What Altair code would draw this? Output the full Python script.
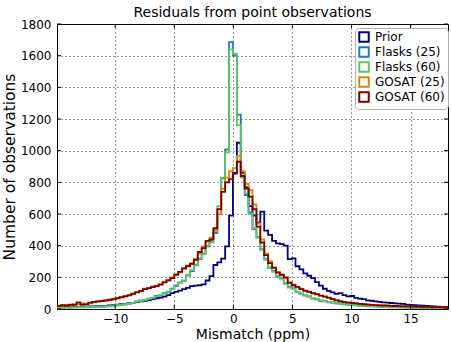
import altair as alt
import pandas as pd

# Histogram bins: 100 bins starting at BIN_START with width BIN_WIDTH (ppm)
BIN_START = -14.93
BIN_WIDTH = 0.331
N_BINS = 100

SERIES = ["Prior", "Flasks (25)", "Flasks (60)", "GOSAT (25)", "GOSAT (60)"]
COLORS = ["#00007f", "#1f78d0", "#5cc85c", "#d8870f", "#7f0000"]

prior = [12, 14, 12, 15, 13, 14, 15, 14, 16, 17,
         18, 18, 20, 22, 24, 27, 30, 33, 36, 38,
         44, 48, 52, 56, 62, 68, 72, 78, 88, 100,
         108, 116, 125, 133, 145, 148, 150, 155, 180, 208,
         278, 295, 318, 395, 590, 855, 1050, 860, 770, 650,
         590, 545, 615, 495, 468, 430, 415, 410, 400, 315,
         320, 270, 250, 225, 210, 195, 170, 148, 128, 115,
         105, 95, 100, 88, 80, 82, 70, 66, 62, 55,
         52, 48, 45, 42, 40, 38, 36, 34, 32, 28,
         26, 24, 22, 21, 20, 18, 17, 15, 14, 13]

flasks25 = [9, 8, 10, 9, 11, 10, 12, 11, 13, 12,
            15, 14, 17, 17, 21, 23, 28, 29, 35, 37,
            46, 54, 56, 66, 70, 82, 86, 100, 108, 128,
            145, 168, 178, 214, 240, 280, 315, 350, 395, 430,
            480, 600, 825, 1008, 1686, 1600, 1228, 840, 720, 610,
            505, 455, 375, 315, 260, 240, 205, 195, 160, 140,
            132, 108, 98, 85, 80, 66, 62, 52, 50, 42,
            41, 35, 34, 29, 28, 25, 23, 21, 20, 17,
            18, 15, 15, 13, 14, 11, 12, 10, 11, 9,
            9, 8, 9, 7, 8, 6, 7, 6, 5, 6]

flasks60 = [8, 9, 9, 10, 10, 11, 10, 12, 12, 13,
            14, 15, 16, 18, 20, 24, 27, 30, 34, 38,
            48, 52, 58, 64, 72, 80, 88, 98, 110, 125,
            150, 165, 180, 210, 245, 275, 320, 345, 400, 420,
            490, 650, 830, 990, 1640, 1612, 1161, 830, 730, 600,
            510, 450, 380, 310, 265, 235, 210, 190, 165, 135,
            128, 110, 95, 88, 78, 68, 60, 54, 48, 44,
            40, 36, 33, 30, 28, 26, 24, 22, 20, 19,
            17, 16, 15, 14, 13, 12, 11, 11, 10, 10,
            9, 9, 8, 8, 7, 7, 7, 6, 6, 6]

gosat25 = [18, 22, 25, 24, 30, 30, 35, 28, 36, 42,
           46, 52, 52, 60, 60, 70, 72, 82, 88, 98,
           108, 112, 128, 130, 142, 148, 152, 172, 178, 200,
           220, 232, 260, 275, 290, 318, 350, 395, 425, 450,
           500, 600, 760, 830, 870, 890, 965, 870, 790, 750,
           660, 540, 440, 350, 300, 265, 235, 220, 195, 170,
           155, 138, 128, 118, 110, 98, 95, 84, 80, 70,
           64, 56, 50, 45, 42, 37, 36, 33, 31, 29,
           27, 25, 24, 22, 22, 20, 19, 18, 17, 17,
           16, 15, 15, 14, 13, 13, 12, 12, 11, 11]

gosat60 = [20, 24, 22, 28, 26, 42, 28, 30, 40, 45,
           48, 50, 55, 58, 62, 68, 75, 80, 86, 95,
           105, 115, 125, 132, 138, 145, 155, 168, 182, 195,
           215, 235, 255, 270, 285, 310, 360, 385, 430, 440,
           510, 630, 740, 800, 820, 860, 930, 840, 760, 710,
           630, 520, 420, 340, 290, 260, 230, 215, 200, 165,
           150, 140, 125, 115, 108, 100, 92, 85, 78, 72,
           62, 54, 48, 44, 40, 38, 35, 32, 30, 28,
           26, 24, 23, 22, 21, 20, 19, 18, 17, 16,
           16, 15, 14, 14, 13, 13, 12, 12, 11, 11]

X_TICKS = [-10, -5, 0, 5, 10, 15]
Y_TICKS = [0, 200, 400, 600, 800, 1000, 1200, 1400, 1600, 1800]

X_MIN = BIN_START
X_MAX = BIN_START + N_BINS * BIN_WIDTH

rows = []
for name, counts in zip(SERIES, [prior, flasks25, flasks60, gosat25, gosat60]):
    for i, c in enumerate(counts):
        rows.append({"series": name, "x": BIN_START + i * BIN_WIDTH, "count": c, "o": i})
    rows.append({"series": name, "x": X_MAX, "count": counts[-1], "o": len(counts)})
df = pd.DataFrame(rows)

W, H = 391, 285
TL = 4

xscale = alt.Scale(domain=[X_MIN, X_MAX], nice=False, zero=False)
yscale = alt.Scale(domain=[0, 1800], nice=False)
xaxis = alt.Axis(values=X_TICKS, title="Mismatch (ppm)", format="d", labelOverlap=False,
                 tickCount=len(X_TICKS))
yaxis = alt.Axis(values=Y_TICKS, title="Number of observations", format="d",
                 labelOverlap=False, tickCount=len(Y_TICKS), titleFontSize=15.5)

lines = alt.Chart(df).mark_line(interpolate="step-after", strokeWidth=1.8, clip=True).encode(
    x=alt.X("x:Q", scale=xscale, axis=xaxis),
    y=alt.Y("count:Q", scale=yscale, axis=yaxis),
    color=alt.Color("series:N", scale=alt.Scale(domain=SERIES, range=COLORS),
                    legend=alt.Legend(title=None, orient="none", legendX=298, legendY=4,
                                      symbolType="square", symbolSize=90,
                                      symbolStrokeWidth=2, symbolFillColor="white",
                                      labelFontSize=12, labelFont="DejaVu Sans",
                                      labelColor="black",
                                      rowPadding=-3, padding=3, fillColor="white",
                                      strokeColor="#b0b0b0", cornerRadius=4,
                                      labelOffset=5)),
    order="o:Q",
)

xt = pd.DataFrame({"x": X_TICKS})
yt = pd.DataFrame({"count": Y_TICKS})

xb = alt.Chart(xt).mark_rule(color="black", strokeWidth=1).encode(
    x=alt.X("x:Q", scale=xscale, axis=xaxis), y=alt.value(H), y2=alt.value(H - TL))
xtop = alt.Chart(xt).mark_rule(color="black", strokeWidth=1).encode(
    x=alt.X("x:Q", scale=xscale, axis=xaxis), y=alt.value(0), y2=alt.value(TL))
yl = alt.Chart(yt).mark_rule(color="black", strokeWidth=1).encode(
    y=alt.Y("count:Q", scale=yscale, axis=yaxis), x=alt.value(0), x2=alt.value(TL))
yr = alt.Chart(yt).mark_rule(color="black", strokeWidth=1).encode(
    y=alt.Y("count:Q", scale=yscale, axis=yaxis), x=alt.value(W - TL), x2=alt.value(W))

chart = alt.layer(lines, xb, xtop, yl, yr).properties(
    width=W, height=H,
    title=alt.TitleParams("Residuals from point observations", font="DejaVu Sans",
                          fontSize=14, fontWeight="normal", offset=-2, color="black"),
    autosize=alt.AutoSizeParams(type="none"),
    padding={"left": 57, "top": 24, "right": 3, "bottom": 33},
    background="white",
).configure_view(
    stroke="black", strokeWidth=1
).configure_axis(
    domain=False, ticks=False, grid=True, gridColor="#222", gridDash=[1, 3],
    gridWidth=1, gridOpacity=0.9, labelOverlap=False,
    labelFont="DejaVu Sans", labelFontSize=12, labelColor="black",
    titleFont="DejaVu Sans", titleFontSize=14, titleFontWeight="normal", titleColor="black",
).configure_axisX(
    labelPadding=4, titlePadding=3
).configure_axisY(
    labelPadding=6, titlePadding=3
)

chart.save("out.html", embed_options={"renderer": "svg", "actions": False})
